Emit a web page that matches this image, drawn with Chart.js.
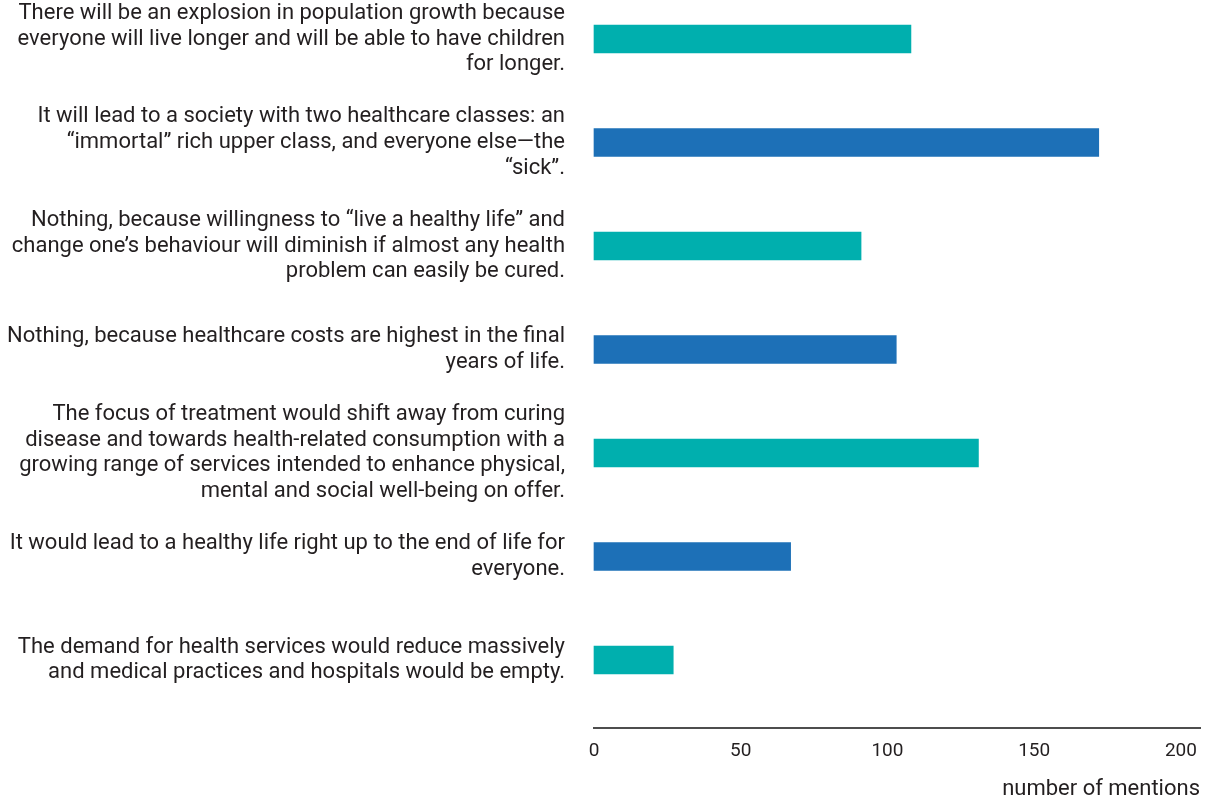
<!DOCTYPE html>
<html lang="en">
<head>
    <meta charset="UTF-8">
    <title>Number of mentions</title>
    <script src="https://cdn.jsdelivr.net/npm/chart.js@4.4.1/dist/chart.umd.min.js"></script>
    <style>
        html, body { margin: 0; padding: 0; background: #ffffff; }
        .wrap { width: 1212px; height: 799px; position: relative; }
    </style>
</head>
<body>
    <div class="wrap">
        <canvas id="mentionsChart"></canvas>
    </div>

    <script>
        // answers, one array entry per text line
        const answers = [
            ['There will be an explosion in population growth because', 'everyone will live longer and will be able to have children', 'for longer.'],
            ['It will lead to a society with two healthcare classes: an', '\u201cimmortal\u201d rich upper class, and everyone else\u2014the', '\u201csick\u201d.'],
            ['Nothing, because willingness to \u201clive a healthy life\u201d and', 'change one\u2019s behaviour will diminish if almost any health', 'problem can easily be cured.'],
            ['Nothing, because healthcare costs are highest in the final', 'years of life.'],
            ['The focus of treatment would shift away from curing', 'disease and towards health-related consumption with a', 'growing range of services intended to enhance physical,', 'mental and social well-being on offer.'],
            ['It would lead to a healthy life right up to the end of life for', 'everyone.'],
            ['The demand for health services would reduce massively', 'and medical practices and hospitals would be empty.']
        ];
        const mentions = [108, 172, 91, 103, 131, 67, 27];
        const xTicks = [0, 50, 100, 150, 200];
        const barColors = ['#00afae', '#1d70b7'];

        const ctx = document.getElementById('mentionsChart').getContext('2d');
        const textFont = 'Roboto, "Noto Sans", sans-serif';

        new Chart(ctx, {
            type: 'bar',
            data: {
                datasets: [{
                    data: mentions.map((v, i) => ({ x: v, y: i })),
                    backgroundColor: mentions.map((v, i) => barColors[i % 2]),
                    barThickness: 28,
                    clip: false
                }]
            },
            options: {
                indexAxis: 'y',
                responsive: true,
                maintainAspectRatio: false,
                animation: false,
                layout: { padding: { top: 0, right: 12, bottom: 0, left: 0 } },
                plugins: {
                    legend: { display: false },
                    tooltip: { enabled: false }
                },
                scales: {
                    y: {
                        type: 'linear',
                        offset: false,
                        reverse: true,
                        min: -0.377,
                        max: 6.657,
                        afterBuildTicks: s => { s.ticks = answers.map((a, i) => ({ value: i })); },
                        // fixed label column; labels may overhang the plot area
                        afterFit: s => {
                            s.width = 594;
                            s.paddingTop = 0;
                            s.paddingBottom = 0;
                        },
                        grid: { display: false, drawTicks: false },
                        border: { display: false },
                        ticks: {
                            autoSkip: false,
                            padding: 29,
                            color: '#231f20',
                            font: { family: textFont, size: 22, lineHeight: 1.18 },
                            callback: v => answers[v]
                        }
                    },
                    x: {
                        type: 'linear',
                        offset: false,
                        min: 0,
                        max: 206.5,
                        afterBuildTicks: s => { s.ticks = xTicks.map(v => ({ value: v })); },
                        afterFit: s => { s.height = 71; },
                        grid: { display: false, drawTicks: false },
                        border: { display: true, color: '#4d4d4d', width: 2 },
                        ticks: {
                            autoSkip: false,
                            padding: 12,
                            maxRotation: 0,
                            color: '#231f20',
                            font: { family: textFont, size: 19 }
                        },
                        title: {
                            display: true,
                            text: 'number of mentions',
                            align: 'end',
                            color: '#231f20',
                            font: { family: textFont, size: 22, lineHeight: 0.9 },
                            padding: { top: 12, bottom: 0 }
                        }
                    }
                }
            }
        });
    </script>
</body>
</html>
